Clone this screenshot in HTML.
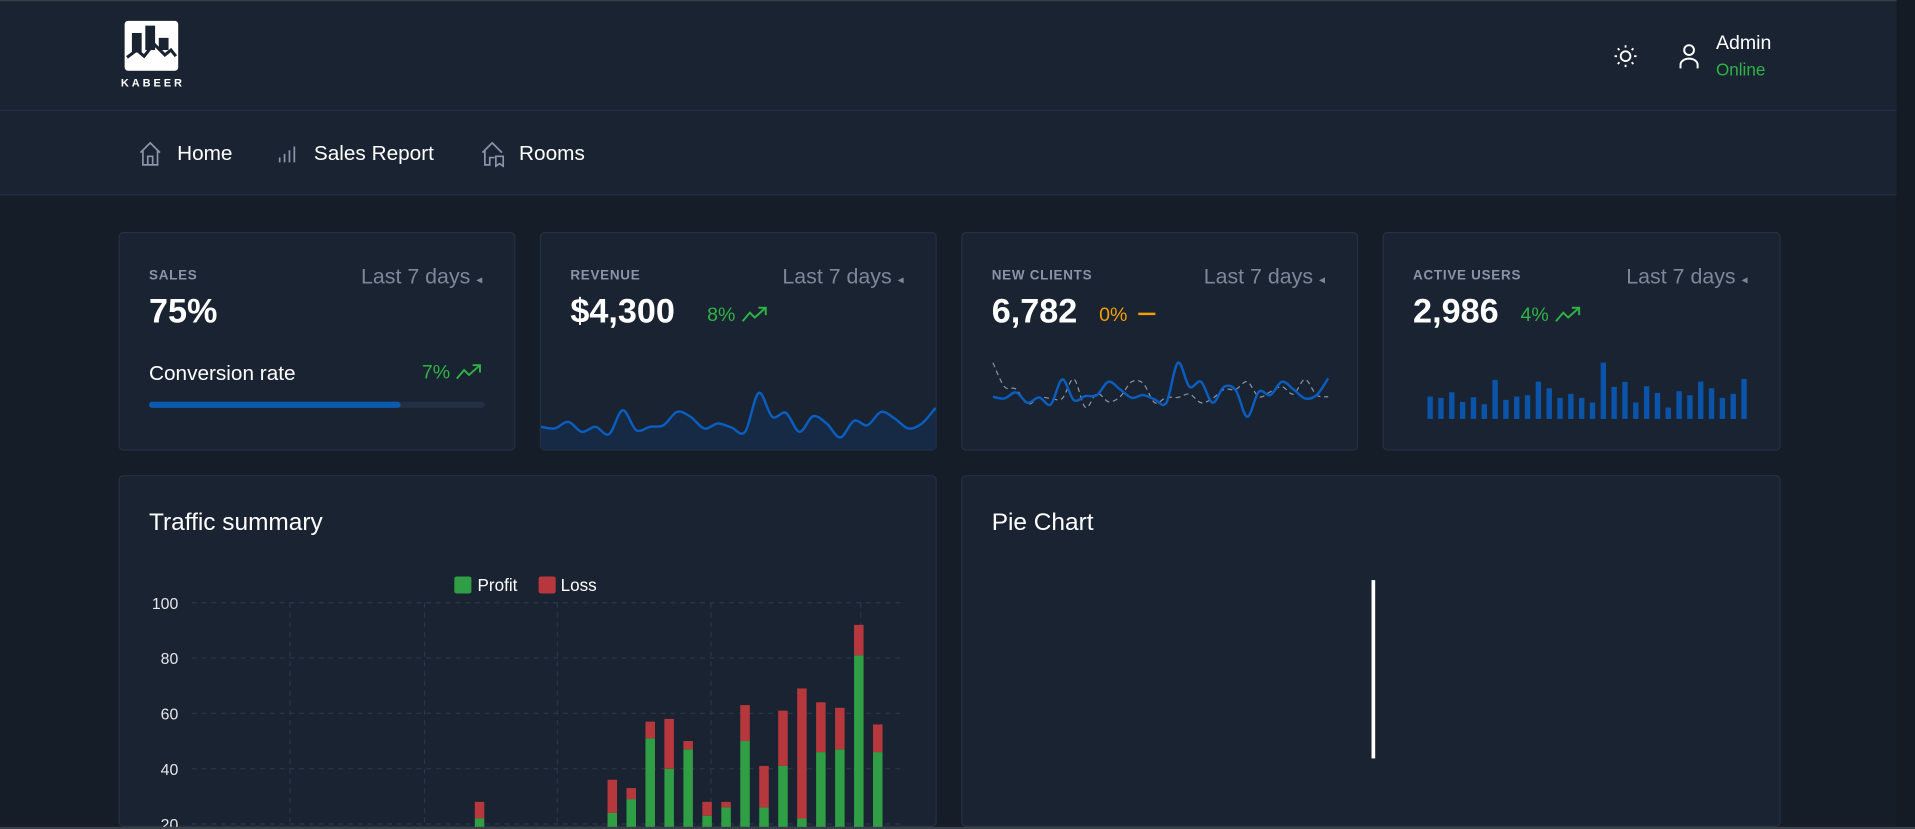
<!DOCTYPE html>
<html><head><meta charset="utf-8">
<style>
html,body{margin:0;padding:0;width:1915px;height:829px;overflow:hidden;background:#151d28;font-family:"Liberation Sans",sans-serif;}
#wrap{position:absolute;left:0;top:0;width:1568px;height:679px;overflow:hidden;transform:scale(1.22131);transform-origin:0 0;background:#151d28;color:#fff;}
.abs{position:absolute;}
.card{position:absolute;background:#1a2332;border:1px solid #243044;border-radius:4px;box-sizing:border-box;overflow:hidden;}
.lbl{position:absolute;font-size:11px;color:#8a94a6;letter-spacing:0.6px;font-weight:bold;}
.range{position:absolute;font-size:17.5px;color:#7c8798;}
.big{position:absolute;font-size:28px;font-weight:bold;color:#fff;}
.green{color:#2fb344;}
svg text{font-family:"Liberation Sans",sans-serif;}
</style></head><body>
<div id="wrap">
<div class="abs" style="left:0;top:0;width:1553px;height:91px;background:#1a2332;border-bottom:1px solid #243044;border-top:1px solid #3a3f47;box-sizing:border-box;"></div>
<div class="abs" style="left:0;top:91px;width:1553px;height:69px;background:#1a2332;border-bottom:1px solid #243044;box-sizing:border-box;"></div>
<div class="abs" style="left:1553px;top:0;width:15px;height:679px;background:#141b24;"></div>

<div class="abs" style="left:102px;top:17px;">
<svg width="44" height="41" viewBox="0 0 44 41"><rect x="0" y="0" width="44" height="41" rx="3" fill="#fff"/><rect x="6" y="10" width="8" height="16" fill="#1a2332"/><rect x="17" y="4" width="8" height="20" fill="#1a2332"/><rect x="28" y="14" width="8" height="10" fill="#1a2332"/><polyline points="2,30 10,24 16,29 24,19 33,28 38,24 42,29" fill="none" stroke="#1a2332" stroke-width="2.5"/></svg></div>
<div class="abs" style="left:99px;top:63px;font-size:9px;font-weight:bold;letter-spacing:2.4px;">KABEER</div>

<svg class="abs" style="left:1321px;top:36px" width="20" height="20"><circle cx="10" cy="10" r="4" fill="none" stroke="#fff" stroke-width="1.5"/><g stroke="#fff" stroke-width="1.5"><line x1="10" y1="1" x2="10" y2="3"/><line x1="10" y1="17" x2="10" y2="19"/><line x1="1" y1="10" x2="3" y2="10"/><line x1="17" y1="10" x2="19" y2="10"/><line x1="3.6" y1="3.6" x2="5" y2="5"/><line x1="15" y1="15" x2="16.4" y2="16.4"/><line x1="3.6" y1="16.4" x2="5" y2="15"/><line x1="15" y1="5" x2="16.4" y2="3.6"/></g></svg>
<svg class="abs" style="left:1374px;top:35px" width="18" height="22"><circle cx="9" cy="6" r="4" fill="none" stroke="#fff" stroke-width="1.6"/><path d="M2 21 v-3 a7 5 0 0 1 14 0 v3" fill="none" stroke="#fff" stroke-width="1.6"/></svg>
<div class="abs" style="left:1405px;top:27px;font-size:16px;">Admin</div>
<div class="abs green" style="left:1405px;top:49px;font-size:14px;">Online</div>

<svg class="abs" style="left:113px;top:115px" width="20" height="22"><path d="M2 10 L10 2 L18 10 M4 8 V20 H16 V8 M8 20 V13 H12 V20" fill="none" stroke="#8a94a6" stroke-width="1.4"/></svg>
<div class="abs" style="left:145px;top:116px;font-size:17px;">Home</div>
<svg class="abs" style="left:227px;top:118px" width="16" height="16"><g stroke="#8a94a6" stroke-width="1.4"><line x1="2" y1="15" x2="2" y2="11"/><line x1="6" y1="15" x2="6" y2="8"/><line x1="10" y1="15" x2="10" y2="5"/><line x1="14" y1="15" x2="14" y2="2"/></g></svg>
<div class="abs" style="left:257px;top:116px;font-size:17px;">Sales Report</div>
<svg class="abs" style="left:393px;top:115px" width="22" height="22"><path d="M2 10 L10 2 L18 10 M4 8 V20 H8 V14 H12 M13 13 H19 V21 L16 19 L13 21 Z" fill="none" stroke="#8a94a6" stroke-width="1.4"/></svg>
<div class="abs" style="left:425px;top:116px;font-size:17px;">Rooms</div>

<!-- Sales card -->
<div class="card" style="left:97px;top:190px;width:325px;height:179px;">
<div class="lbl" style="left:24px;top:29px;">SALES</div>
<div class="range" style="right:26px;top:25px;">Last 7 days <span style="font-size:10px">◂</span></div>
<div class="big" style="left:24px;top:48px;">75%</div>
<div class="abs" style="left:24px;top:105px;font-size:17px;">Conversion rate</div>
<div class="abs green" style="right:26px;top:106px;font-size:16px;">7% <svg width="22" height="14" style="vertical-align:-1px"><polyline points="1,13 7,6 11,10 20,2" fill="none" stroke="#2fb344" stroke-width="1.6"/><polyline points="14,2 20,2 20,8" fill="none" stroke="#2fb344" stroke-width="1.6"/></svg></div>
<div class="abs" style="left:24px;top:138px;width:275px;height:5px;background:#223045;border-radius:3px;"><div style="width:75%;height:100%;background:#0a5ab0;border-radius:3px;"></div></div>
</div>

<!-- Revenue card -->
<div class="card" style="left:442px;top:190px;width:325px;height:179px;">
<div class="lbl" style="left:24px;top:29px;">REVENUE</div>
<div class="range" style="right:26px;top:25px;">Last 7 days <span style="font-size:10px">◂</span></div>
<div class="big" style="left:24px;top:48px;">$4,300</div>
<div class="abs green" style="left:136px;top:59px;font-size:16px;">8% <svg width="22" height="14" style="vertical-align:-1px"><polyline points="1,13 7,6 11,10 20,2" fill="none" stroke="#2fb344" stroke-width="1.6"/><polyline points="14,2 20,2 20,8" fill="none" stroke="#2fb344" stroke-width="1.6"/></svg></div>
</div>
<svg id="revSvg" class="abs" style="left:0;top:0" width="1568" height="679" pointer-events="none"></svg>

<!-- New clients -->
<div class="card" style="left:787px;top:190px;width:325px;height:179px;">
<div class="lbl" style="left:24px;top:29px;">NEW CLIENTS</div>
<div class="range" style="right:26px;top:25px;">Last 7 days <span style="font-size:10px">◂</span></div>
<div class="big" style="left:24px;top:48px;">6,782</div>
<div class="abs" style="left:112px;top:59px;font-size:16px;color:#f59f00;">0% <span style="display:inline-block;width:14px;height:2px;background:#f59f00;vertical-align:5px;margin-left:4px"></span></div>
</div>
<svg id="ncSvg" class="abs" style="left:0;top:0" width="1568" height="679" pointer-events="none"></svg>

<!-- Active users -->
<div class="card" style="left:1132px;top:190px;width:326px;height:179px;">
<div class="lbl" style="left:24px;top:29px;">ACTIVE USERS</div>
<div class="range" style="right:26px;top:25px;">Last 7 days <span style="font-size:10px">◂</span></div>
<div class="big" style="left:24px;top:48px;">2,986</div>
<div class="abs green" style="left:112px;top:59px;font-size:16px;">4% <svg width="22" height="14" style="vertical-align:-1px"><polyline points="1,13 7,6 11,10 20,2" fill="none" stroke="#2fb344" stroke-width="1.6"/><polyline points="14,2 20,2 20,8" fill="none" stroke="#2fb344" stroke-width="1.6"/></svg></div>
</div>
<svg id="auSvg" class="abs" style="left:0;top:0" width="1568" height="679" pointer-events="none"></svg>

<!-- Traffic summary -->
<div class="card" style="left:97px;top:389px;width:670px;height:288px;">
<div class="abs" style="left:24px;top:27px;font-size:20px;">Traffic summary</div>
</div>
<svg id="trSvg" class="abs" style="left:0;top:0" width="1568" height="679"></svg>

<!-- Pie -->
<div class="card" style="left:787px;top:389px;width:671px;height:288px;">
<div class="abs" style="left:24px;top:27px;font-size:20px;">Pie Chart</div>
<div class="abs" style="left:335px;top:85px;width:3px;height:146px;background:#fff;"></div>
</div>
<div class="abs" style="left:0;top:677px;width:1568px;height:2px;background:#3a3f47;"></div>
</div>

<script>
const NS='http://www.w3.org/2000/svg';
const revenueValues=[60,55,75,45,60,38,110,50,60,65,105,90,55,70,58,45,162,90,102,45,92,70,28,78,65,105,85,55,70,117];
const clientsValues=[80,75,93,62,78,57,132,70,82,85,125,102,77,85,72,62,182,110,125,62,110,100,20,95,85,125,102,75,85,135];
const clientsPrevValues=[182,110,103,58,78,75,75,133,48,90,65,80,125,120,62,78,78,88,62,75,102,102,125,80,95,110,88,132,85,80];
const activeUsersValues=[67,63,80,51,65,44,117,57,67,71,112,92,63,75,63,49,169,96,111,49,98,78,34,83,71,112,92,63,75,120];
const trafficDays=Array.from({length:38},(_,i)=>'D'+(i+1));
const profitValues=[0,0,0,0,0,0,0,0,0,0,0,0,0,0,0,22,0,0,0,0,0,0,24,29,51,40,47,23,26,50,26,41,22,46,47,81,46,0];
const lossValues=[0,0,0,0,0,0,0,0,0,0,0,0,0,0,0,6,0,0,0,0,0,0,12,4,6,18,3,5,2,13,15,20,47,18,15,11,10,0];
const yTicks=[100,80,60,40,20,0];

function el(tag,attrs,parent){const e=document.createElementNS(NS,tag);for(const k in attrs)e.setAttribute(k,attrs[k]);parent.appendChild(e);return e;}
function smooth(pts){let d='M'+pts[0][0]+' '+pts[0][1];for(let i=0;i<pts.length-1;i++){const p0=pts[i-1]||pts[i],p1=pts[i],p2=pts[i+1],p3=pts[i+2]||p2;const c1x=p1[0]+(p2[0]-p0[0])/6,c1y=p1[1]+(p2[1]-p0[1])/6,c2x=p2[0]-(p3[0]-p1[0])/6,c2y=p2[1]-(p3[1]-p1[1])/6;d+=` C${c1x} ${c1y} ${c2x} ${c2y} ${p2[0]} ${p2[1]}`;}return d;}

(function(){const s=document.getElementById('revSvg');const x0=443,x1=766;const xs=i=>x0+(x1-x0)*i/(revenueValues.length-1);const ys=v=>365.8-v*0.272;
const pts=revenueValues.map((v,i)=>[xs(i),ys(v)]);const d=smooth(pts);
const a=el('path',{d:d+` L${x1} 368 L${x0} 368 Z`,fill:'#162a45'},s);


const l=el('path',{d:d,fill:'none',stroke:'#0a5ec0','stroke-width':2},s);

})();

(function(){const s=document.getElementById('ncSvg');const x0=813,x1=1087.5;const xs=i=>x0+(x1-x0)*i/(clientsValues.length-1);const ys=v=>346.7-v*0.273;
const g=el('path',{d:smooth(clientsPrevValues.map((v,i)=>[xs(i),ys(v)])),fill:'none',stroke:'#8a94a6','stroke-width':1,'stroke-dasharray':'4 3'},s);


const l=el('path',{d:smooth(clientsValues.map((v,i)=>[xs(i),ys(v)])),fill:'none',stroke:'#0a5ec0','stroke-width':2},s);

})();

(function(){const s=document.getElementById('auSvg');const x0=1171,x1=1428;const xs=i=>x0+(x1-x0)*i/(activeUsersValues.length-1);const h=v=>v*0.273;
activeUsersValues.forEach((v,i)=>{const r=el('rect',{x:xs(i)-2.2,y:343-h(v),width:4.4,height:h(v),fill:'#0a55aa'},s);

});})();

(function(){const s=document.getElementById('trSvg');const L=152,R=742,gl=157,gr=737;const n=trafficDays.length;const bw=(R-L)/n;
const xc=i=>L+bw*(i+0.5);const y=v=>720-v*2.265;
yTicks.forEach(t=>{const ln=el('line',{x1:gl,x2:gr,y1:y(t),y2:y(t),stroke:'#2a3648','stroke-dasharray':'4 4'},s);


const tx=el('text',{x:146,y:y(t)+5,'text-anchor':'end','font-size':13,fill:'#e6e7e9'},s);tx.textContent=t;

});
[5.5,12.6,19.6,27.7,35.6].forEach(k=>{const vx=L+bw*k;const ln=el('line',{x1:vx,x2:vx,y1:y(100),y2:679,stroke:'#2a3648','stroke-dasharray':'4 4'},s);

});
profitValues.forEach((p,i)=>{const lo=lossValues[i];if(p+lo===0)return;
const g=el('rect',{x:xc(i)-3.9,y:y(p),width:7.8,height:y(0)-y(p),fill:'#2f9e44'},s);


const r=el('rect',{x:xc(i)-3.9,y:y(p+lo),width:7.8,height:y(p)-y(p+lo),fill:'#b6383c'},s);

});
const lg1=el('rect',{x:372,y:472,width:14,height:14,rx:2,fill:'#2f9e44'},s);


const t1=el('text',{x:391,y:484,'font-size':14,fill:'#fff'},s);t1.textContent='Profit';


const lg2=el('rect',{x:441,y:472,width:14,height:14,rx:2,fill:'#b6383c'},s);


const t2=el('text',{x:459,y:484,'font-size':14,fill:'#fff'},s);t2.textContent='Loss';

})();
</script>
</body></html>
